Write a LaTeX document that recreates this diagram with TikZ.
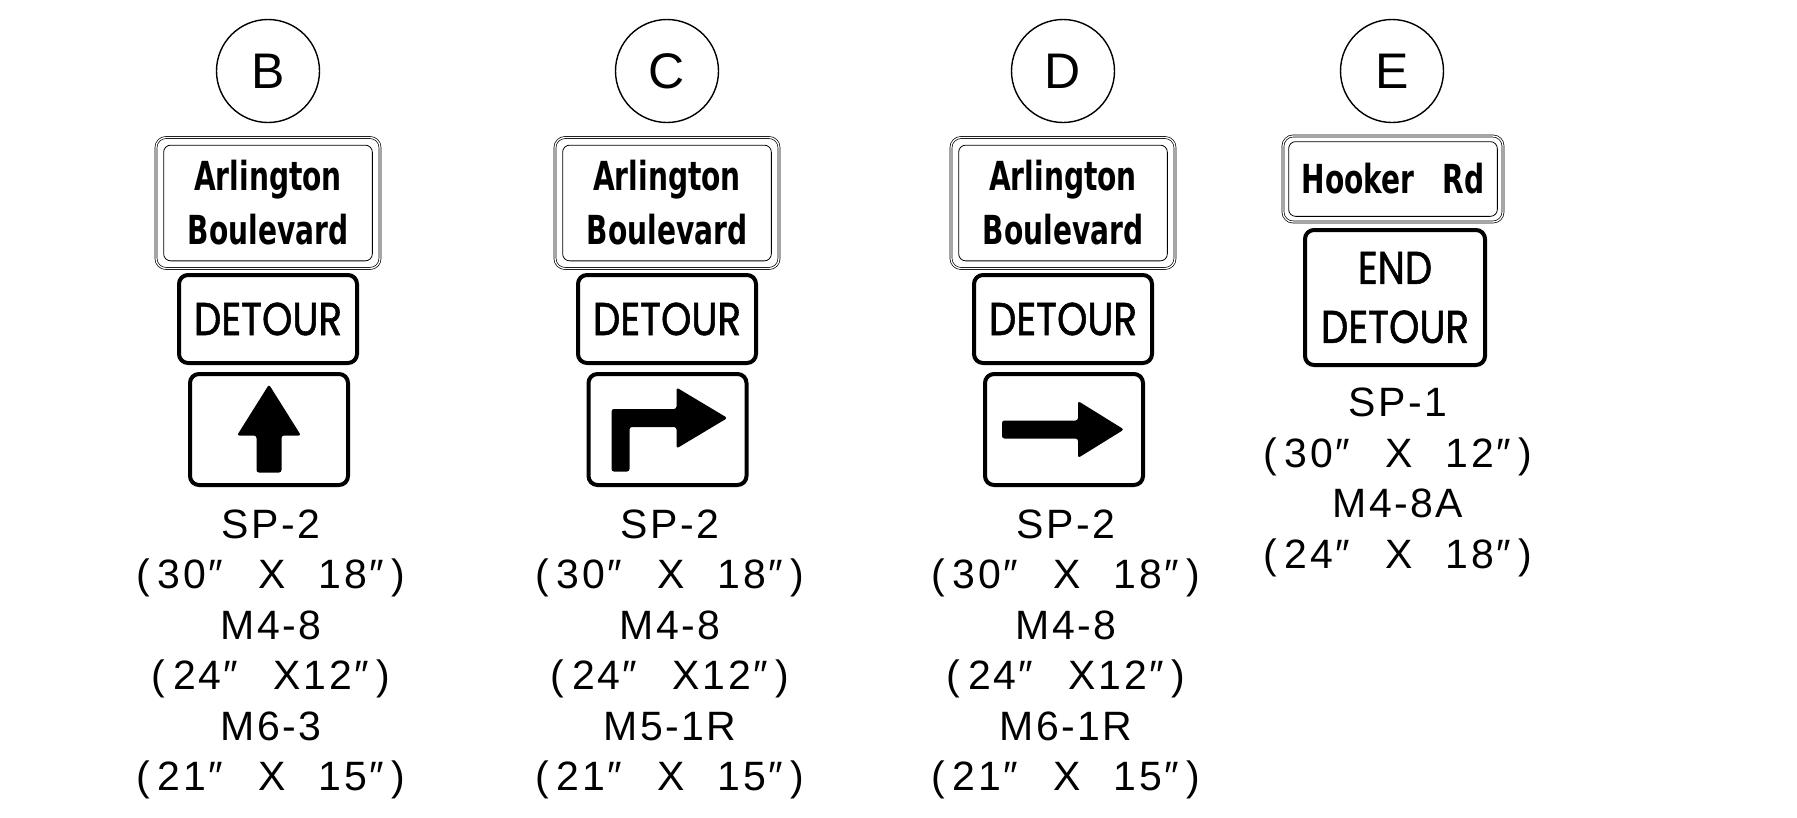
\documentclass[tikz,border=0pt]{standalone}
\usepackage{fontspec}
\setmainfont{Liberation Sans}
\newfontfamily\roadfont{DejaVu Sans Condensed}[FakeStretch=0.78]
\newfontfamily\legendfont{Poppins}[FakeStretch=0.84, FakeBold=1.2]
\newfontfamily\codefont{Liberation Sans}[LetterSpace=6]
\newcommand{\gap}{\hspace{0.8em}}
\newcommand{\inchmark}{″\kern3pt}
\newcommand{\lpar}{(\kern8pt}
\newcommand{\rpar}{\kern5pt)}
\usetikzlibrary{positioning}

\begin{document}
\begin{tikzpicture}[x=1pt, y=-1pt,
    tag circle/.style={draw, circle, line width=1.4, minimum size=103, inner sep=0, font=\fontsize{50}{50}\selectfont},
    name sign/.style={draw, double, double distance=1.3, line width=0.7, rounded corners=10, minimum width=224, minimum height=131, align=center, font=\roadfont\bfseries\fontsize{40}{54}\selectfont},
    legend box/.style={draw, line width=4, rounded corners=9, minimum width=178, minimum height=88, align=center, font=\legendfont\fontsize{46}{59}\selectfont},
    arrow panel/.style={draw, line width=4, rounded corners=9, minimum width=158, minimum height=111},
    code text/.style={align=center, font=\codefont\fontsize{41}{50.5}\selectfont}]
    \useasboundingbox (0,0) rectangle (1797,817);

    % Sign assemblies B, C, D (same top part)
    \foreach \c/\x in {B/268, C/667, D/1063} {
        \node[tag circle] (tag\c) at (\x,71) {\c};
        \node[name sign] (name\c) at (\x,203) {Arlington\\Boulevard};
        \draw[line width=0.8, rounded corners=7] ([shift={(8,8)}]name\c.north west) rectangle ([shift={(-8,-8)}]name\c.south east);
        \node[legend box] (detour\c) at (\x,319) {DETOUR};
    }

    % Arrow panels
    \node[arrow panel] (panelB) at (269,429.5) {};
    \node[arrow panel] (panelC) at (667.5,429.5) {};
    \node[arrow panel] (panelD) at (1064,429.5) {};

    % M6-3 straight ahead
    \begin{scope}[shift={(panelB.center)}]
        \fill[rounded corners=2.5] (-12.5,43) -- (-12.5,6) -- (-32,6) -- (0,-45) -- (32,6) -- (12.5,6) -- (12.5,43) -- cycle;
    \end{scope}
    % M5-1R turn right
    \begin{scope}[shift={(panelC.center)}]
        \fill[rounded corners=2.5] (-56,42) -- (-56,-20.5) -- (9,-20.5) -- (9,-42) -- (60,-11.5) -- (9,19) -- (9,-2.5) -- (-38,-2.5) -- (-38,42) -- cycle;
    \end{scope}
    % M6-1R right
    \begin{scope}[shift={(panelD.center)}]
        \fill[rounded corners=2.5] (-62,-9) -- (14,-9) -- (14,-28.5) -- (60,0) -- (14,28.5) -- (14,9) -- (-62,9) -- cycle;
    \end{scope}

    % Sign assembly E
    \node[tag circle] (tagE) at (1392,71) {E};
    \node[name sign, minimum width=220, minimum height=86] (nameE) at (1393,179) {Hooker\hspace{0.7em}Rd};
    \draw[line width=0.8, rounded corners=7] ([shift={(6,6)}]nameE.north west) rectangle ([shift={(-6,-6)}]nameE.south east);
    \node[legend box, minimum width=180, minimum height=135] (endE) at (1395,297.5) {END\\DETOUR};

    % Sign codes and sizes
    \node[code text] (codeB) at (271,654.5) {SP-2\\\lpar 30\inchmark\gap X\gap 18\inchmark\rpar\\M4-8\\\lpar 24\inchmark\gap X12\inchmark\rpar\\M6-3\\\lpar 21\inchmark\gap X\gap 15\inchmark\rpar};
    \node[code text] (codeC) at (670,654.5) {SP-2\\\lpar 30\inchmark\gap X\gap 18\inchmark\rpar\\M4-8\\\lpar 24\inchmark\gap X12\inchmark\rpar\\M5-1R\\\lpar 21\inchmark\gap X\gap 15\inchmark\rpar};
    \node[code text] (codeD) at (1066,654.5) {SP-2\\\lpar 30\inchmark\gap X\gap 18\inchmark\rpar\\M4-8\\\lpar 24\inchmark\gap X12\inchmark\rpar\\M6-1R\\\lpar 21\inchmark\gap X\gap 15\inchmark\rpar};
    \node[code text] (codeE) at (1398,482.5) {SP-1\\\lpar 30\inchmark\gap X\gap 12\inchmark\rpar\\M4-8A\\\lpar 24\inchmark\gap X\gap 18\inchmark\rpar};

\end{tikzpicture}
\end{document}
